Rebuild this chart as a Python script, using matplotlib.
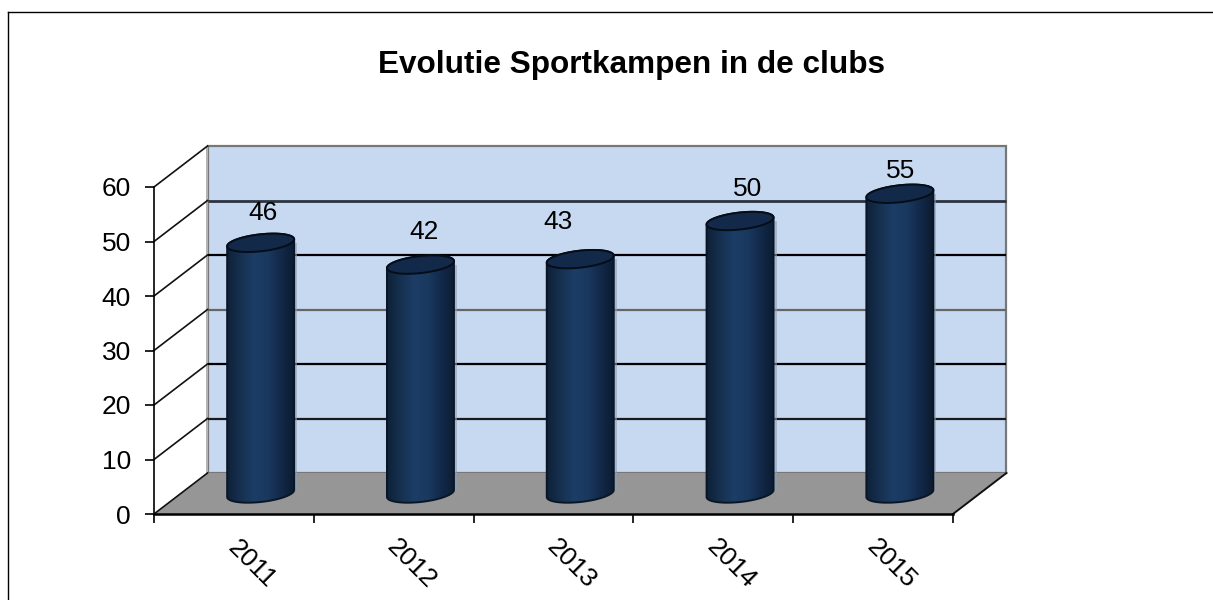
import numpy as np
import matplotlib
matplotlib.use('Agg')
import matplotlib.pyplot as plt
from matplotlib.colors import LinearSegmentedColormap
from matplotlib.patches import Polygon
from matplotlib.transforms import ScaledTranslation

titel = 'Evolutie Sportkampen in de clubs'
jaren = ['2011', '2012', '2013', '2014', '2015']
waarden = [46, 42, 43, 50, 55]
y_ticks = [0, 10, 20, 30, 40, 50, 60]

# kleur en dikte van de lijnen op de achterwand, per tick
grid_kleur = ['#777777', '#1a1a1a', '#000000', '#666666', '#000000', '#2a3340', '#666666']
grid_dikte = [1.0, 1.6, 1.6, 1.6, 1.6, 2.0, 1.6]

# pixel offset van de waarde-labels t.o.v. het midden van de cilinder
label_dx = [2, 4, -22, 8, 1]
label_dy = [30, 33, 37, 32, 23]

plt.rcParams['font.family'] = ['Liberation Sans', 'DejaVu Sans']

W, H = 1213, 600
fig = plt.figure(figsize=(W / 100, H / 100), dpi=100)

x0, x1, y0, y60 = 154, 953, 514, 187
ax = fig.add_axes([x0 / W, 1 - y0 / H, (x1 - x0) / W, (y0 - y60) / H])
ax.set_xlim(0, 5)
ax.set_ylim(0, 60)
ax.patch.set_alpha(0)

px_x = 5 / (x1 - x0)
px_y = 60 / (y0 - y60)
dx = 53.5 * px_x
dy = 41 * px_y


def poly(pts, **kw):
    p = Polygon(pts, closed=True, clip_on=False, **kw)
    ax.add_patch(p)
    return p


# achterwand, zijwand, vloer
poly([(dx, dy), (5 + dx, dy), (5 + dx, 60 + dy), (dx, 60 + dy)], facecolor='#C6D9F1',
     edgecolor='#777777', linewidth=1.6, zorder=1)
poly([(dx - 2 * px_x, dy), (dx, dy), (dx, 60 + dy), (dx - 2 * px_x, 60 + dy)],
     facecolor='#B4B4B4', edgecolor='none', zorder=2)
poly([(0, 0), (5, 0), (5 + dx, dy), (dx, dy)], facecolor='#969696',
     edgecolor='none', zorder=3)

for t, kleur, lw in zip(y_ticks, grid_kleur, grid_dikte):
    if 0 < t < 60:
        ax.plot([dx, 5 + dx], [t + dy, t + dy], color=kleur, lw=lw, zorder=2,
                solid_capstyle='butt', clip_on=False)
    ax.plot([0, dx], [t, t + dy], color='#111111', lw=1.2, zorder=4, clip_on=False)
ax.plot([5, 5 + dx], [0, dy], color='#111111', lw=1.4, zorder=4, clip_on=False)

# cilinders
verloop = LinearSegmentedColormap.from_list('cil', ['#0E2138', '#16304F', '#1C3D66',
                                                     '#1A3960', '#12294A', '#0C1C30'])
gradient = np.linspace(0, 1, 256).reshape(1, -1)
t = np.linspace(0, 2 * np.pi, 120)
a = 33.5 * px_x
for i, w in enumerate(waarden):
    cx = i + 0.5 + dx / 2
    cy = dy / 2
    top = w + dy / 2
    ex = a * np.cos(t)
    ey = (8.5 * np.sin(t) + 3.5 * np.cos(t)) * px_y

    # schaduw rechts
    poly([(cx + a, cy + 3 * px_y), (cx + a + 3 * px_x, cy + 3 * px_y),
          (cx + a + 3 * px_x, top), (cx + a, top)], facecolor='#8FA0B5',
         edgecolor='none', alpha=0.6, zorder=4.5)

    onder = t[(t >= np.pi)]
    boven = t[(t <= np.pi)]
    omtrek = list(zip(cx + a * np.cos(onder), cy + (8.5 * np.sin(onder) + 3.5 * np.cos(onder)) * px_y))
    omtrek += list(zip(cx + a * np.cos(boven), top + (8.5 * np.sin(boven) + 3.5 * np.cos(boven)) * px_y))
    rand = poly(omtrek, facecolor='none', edgecolor='#0A1626', linewidth=1.4, zorder=6)
    im = ax.imshow(gradient, extent=[cx - a, cx + a, 0, 60], aspect='auto', cmap=verloop,
                   vmin=0, vmax=1, zorder=5, clip_on=True)
    im.set_clip_path(rand)
    poly(list(zip(cx + ex, top + ey)), facecolor='#12294A', edgecolor='#050D18',
         linewidth=1.4, zorder=7)

    ax.annotate(str(w), (cx, top), xytext=(label_dx[i] * 0.72, label_dy[i] * 0.72),
                textcoords='offset points', ha='center', va='center', fontsize=19,
                color='black', zorder=8, annotation_clip=False)

ax.set_xlim(0, 5)
ax.set_ylim(0, 60)

for s in ['top', 'right']:
    ax.spines[s].set_visible(False)
ax.spines['left'].set_linewidth(1.2)
ax.spines['bottom'].set_linewidth(1.8)
ax.spines['left'].set_zorder(9)
ax.spines['bottom'].set_zorder(9)

ax.set_yticks(y_ticks)
ax.tick_params(axis='y', labelsize=19, length=6.5, width=1.2, pad=10)
ax.set_xticks(range(6))
ax.set_xticklabels([])
ax.set_xticks([i + 0.5 for i in range(5)], jaren, minor=True)
ax.tick_params(axis='x', which='major', length=6.5, width=1.2)
ax.tick_params(axis='x', which='minor', length=0, labelsize=19, pad=36)
verschuif = ScaledTranslation(18 / 100, 0, fig.dpi_scale_trans)
for lab in ax.get_xticklabels(minor=True):
    lab.set_rotation(-45)
    lab.set_ha('center')
    lab.set_va('center')
    lab.set_rotation_mode('default')
    lab.set_transform(lab.get_transform() + verschuif)

fig.text(631 / W, 1 - 65 / H, titel, ha='center', va='center', fontsize=22.7,
         fontweight='bold', color='black')

# kader van de grafiek
fig.add_artist(plt.Line2D([8 / W, 8 / W], [0, 1 - 11.5 / H], color='black', lw=1.0))
fig.add_artist(plt.Line2D([8 / W, 1], [1 - 11.5 / H, 1 - 11.5 / H], color='black', lw=1.0))

fig.savefig('out.png', dpi=100)
